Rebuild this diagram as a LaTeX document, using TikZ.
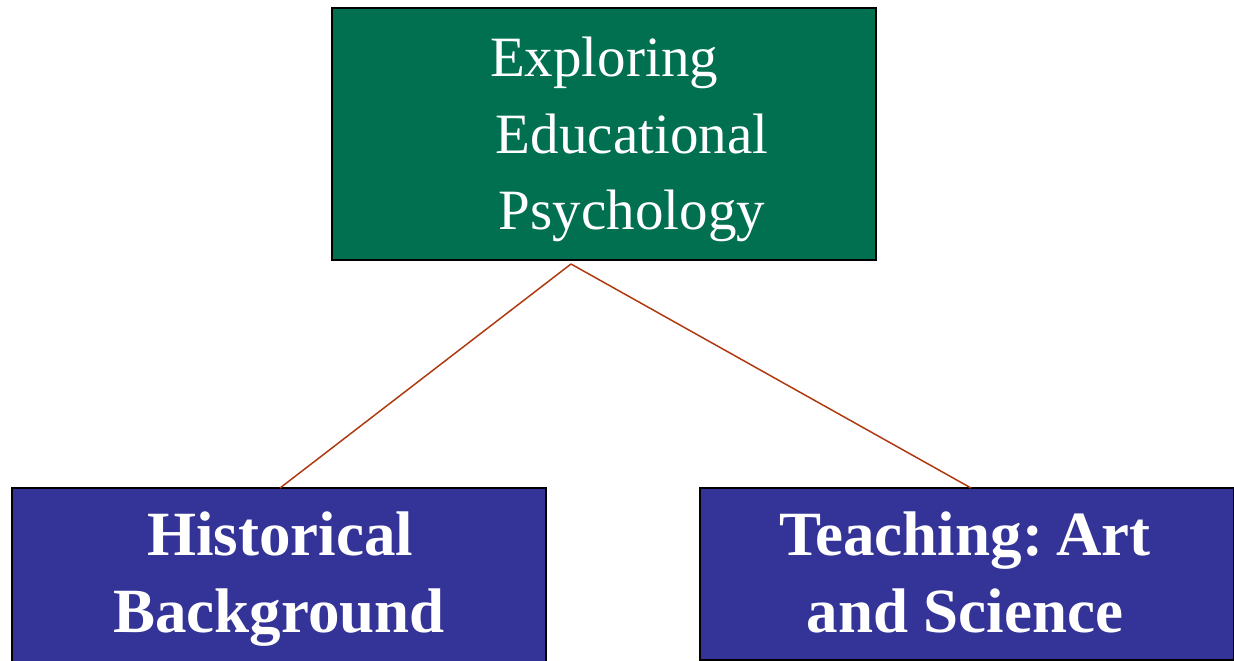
\documentclass[tikz,border=0pt]{standalone}
\usepackage{fontspec}
\setmainfont{Liberation Serif}
\definecolor{topgreen}{RGB}{0,112,80}
\definecolor{boxblue}{RGB}{52,52,152}
\definecolor{linkred}{RGB}{176,58,16}
\begin{document}
\begin{tikzpicture}[x=1pt,y=-1pt,
  box/.style={draw=black,line width=2pt,inner sep=0pt,outer sep=0pt},
  toptext/.style={anchor=base,text=white,font=\fontsize{57}{76}\selectfont,inner sep=0pt},
  bottext/.style={anchor=base,text=white,font=\bfseries\fontsize{63}{77}\selectfont,inner sep=0pt},
  link/.style={draw=linkred,line width=1.5pt}]
\useasboundingbox (0,0) rectangle (1234,661);
\node[box,fill=topgreen,minimum width=544pt,minimum height=252pt] (top) at (604,134) {};
\node[box,fill=boxblue,minimum width=534pt,minimum height=240pt] (hb) at (279,608) {};
\node[box,fill=boxblue,minimum width=534pt,minimum height=172pt] (tc) at (967,574) {};
\node[toptext] (t1) at (604,77) {Exploring};
\node[toptext] (t2) at (632,153) {Educational};
\node[toptext] (t3) at (632,229) {Psychology};
\node[bottext] (b1) at (280,555) {Historical};
\node[bottext] (b2) at (279,632) {Background};
\node[bottext] (c1) at (965,555) {Teaching:\hspace{-0.12em} Art};
\node[bottext] (c2) at (965,632) {and Science};
\coordinate (apex) at (571,264);
\coordinate (hbtop) at (280,488);
\coordinate (tctop) at (971,488);
\draw[link] (apex) -- (hbtop);
\draw[link] (apex) -- (tctop);
\end{tikzpicture}
\end{document}
